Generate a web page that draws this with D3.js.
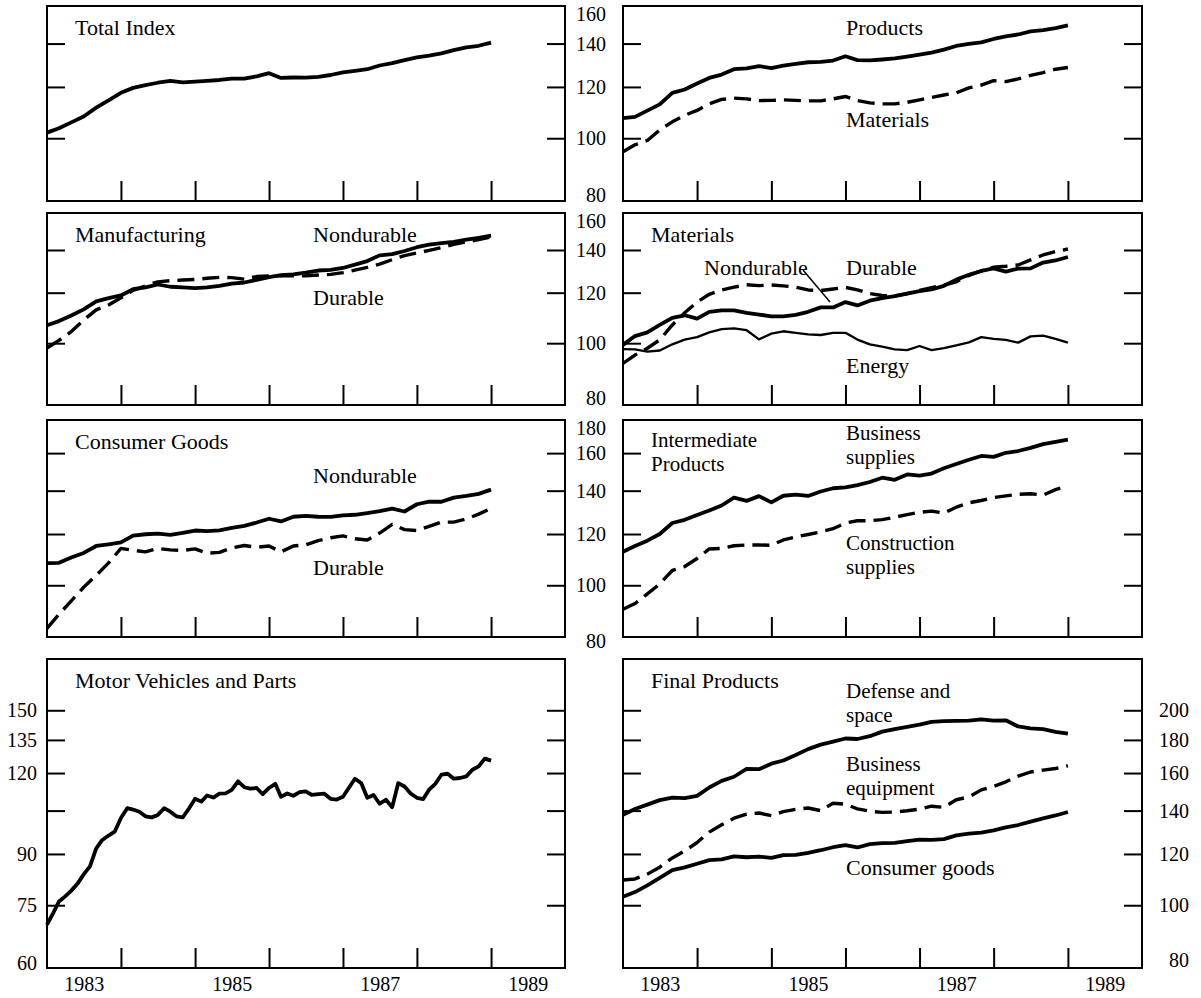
<!DOCTYPE html>
<html>
<head>
<meta charset="utf-8">
<script src="https://cdn.jsdelivr.net/npm/d3@7"></script>
<style>
body { margin: 0; background: #fff; }
svg { display: block; font-family: "Liberation Serif", "Times New Roman", serif; }
</style>
</head>
<body>
<div id="chart"></div>
<script>
// Index values, every two months from Jan 1983 to Jan 1989
var totalIndex = [102.0, 103.6, 105.8, 108.0, 111.5, 114.4, 117.5, 119.6, 120.8, 121.8, 122.6, 122.0, 122.3, 122.6, 123.0, 123.6, 123.6, 124.6, 126.0, 123.9, 124.1, 124.0, 124.4, 125.2, 126.4, 127.1, 127.8, 129.5, 130.6, 132.0, 133.3, 134.1, 135.2, 136.8, 138.1, 138.9, 140.5];
var products = [107.4, 107.9, 110.3, 112.8, 117.5, 118.9, 121.5, 123.9, 125.4, 127.8, 128.2, 129.2, 128.3, 129.4, 130.3, 131.0, 131.2, 131.8, 133.8, 132.0, 131.9, 132.3, 132.8, 133.7, 134.6, 135.6, 137.0, 138.8, 139.8, 140.6, 142.3, 143.6, 144.6, 146.2, 146.9, 147.9, 149.3];
var materials = [95.3, 97.7, 99.2, 103.0, 106.0, 108.5, 110.4, 113.0, 114.8, 115.3, 115.0, 114.3, 114.4, 114.6, 114.4, 114.2, 114.2, 115.0, 116.0, 114.3, 113.4, 113.0, 113.0, 113.6, 114.6, 115.6, 116.6, 117.5, 119.6, 120.8, 122.7, 122.3, 123.5, 125.0, 126.3, 127.8, 128.6];
var mfgNondurable = [106.7, 108.3, 110.5, 113.0, 116.3, 117.7, 118.8, 121.5, 122.3, 123.6, 122.6, 122.3, 122.0, 122.3, 123.0, 124.0, 124.5, 125.7, 126.9, 127.8, 128.2, 129.0, 130.0, 130.3, 131.2, 132.8, 134.5, 137.3, 137.9, 139.5, 141.4, 142.7, 143.5, 144.2, 145.3, 146.3, 147.4];
var mfgDurable = [98.3, 101.0, 104.3, 108.7, 112.8, 114.8, 117.8, 121.0, 123.0, 124.8, 125.3, 125.6, 125.9, 126.4, 126.8, 126.7, 126.0, 127.2, 127.5, 127.5, 127.5, 127.5, 127.9, 128.2, 129.0, 130.2, 131.5, 133.0, 135.2, 137.2, 138.5, 139.8, 141.2, 142.9, 144.2, 145.3, 146.8];
var matDurable = [93.0, 95.8, 98.2, 101.2, 106.8, 111.6, 116.0, 119.3, 121.2, 122.4, 123.5, 123.1, 123.4, 123.0, 122.4, 121.2, 120.9, 121.6, 122.3, 121.2, 119.6, 118.8, 118.6, 119.6, 121.0, 122.2, 123.3, 124.8, 127.7, 129.8, 131.6, 132.0, 132.6, 135.1, 137.5, 139.2, 140.5];
var matNondurable = [99.4, 102.6, 104.0, 106.8, 109.6, 110.6, 109.3, 112.0, 112.6, 112.6, 111.6, 110.9, 110.2, 110.2, 110.8, 112.0, 113.8, 113.8, 116.0, 114.6, 116.6, 117.7, 118.5, 119.6, 120.7, 121.4, 123.0, 125.8, 128.0, 129.8, 131.0, 129.5, 130.9, 131.0, 133.8, 134.8, 136.5];
var energy = [97.9, 97.8, 97.0, 97.4, 99.6, 101.3, 102.2, 104.0, 105.2, 105.5, 104.8, 101.4, 103.5, 104.4, 103.8, 103.2, 103.0, 103.8, 103.8, 101.3, 99.6, 98.8, 97.8, 97.5, 99.0, 97.5, 98.2, 99.2, 100.3, 102.2, 101.6, 101.2, 100.2, 102.5, 102.8, 101.6, 100.2];
var cgNondurable = [108.2, 108.3, 110.4, 112.2, 115.0, 115.7, 116.5, 119.3, 119.9, 120.2, 119.6, 120.5, 121.5, 121.2, 121.6, 122.6, 123.5, 125.0, 126.7, 125.5, 127.6, 128.0, 127.6, 127.5, 128.2, 128.5, 129.3, 130.2, 131.3, 130.0, 133.4, 134.6, 134.6, 136.6, 137.4, 138.4, 140.5];
var cgDurable = [85.8, 90.2, 94.6, 99.3, 103.6, 108.3, 114.0, 113.3, 112.6, 114.0, 113.4, 113.2, 113.8, 112.1, 112.4, 114.2, 115.2, 114.5, 115.0, 112.6, 115.0, 115.5, 117.2, 118.4, 119.2, 118.0, 117.5, 120.4, 124.2, 121.9, 121.5, 123.3, 125.2, 125.2, 126.6, 128.8, 131.5];
var businessSupplies = [112.7, 115.0, 117.2, 120.0, 124.8, 126.2, 128.4, 130.5, 132.8, 136.6, 135.0, 137.3, 134.3, 137.5, 138.0, 137.4, 139.6, 141.2, 141.6, 142.8, 144.4, 146.6, 145.5, 148.3, 147.7, 148.8, 151.6, 153.9, 156.3, 158.4, 157.9, 160.2, 161.2, 163.0, 165.2, 166.5, 167.8];
var constructionSupplies = [91.8, 93.7, 97.0, 100.5, 105.4, 106.9, 110.0, 113.8, 114.0, 115.1, 115.4, 115.4, 115.3, 117.5, 118.8, 119.8, 120.9, 122.3, 124.8, 125.8, 125.8, 126.3, 127.4, 128.6, 129.6, 130.2, 129.3, 132.0, 134.1, 135.2, 136.6, 137.4, 138.2, 138.5, 137.8, 140.5, 142.4];
var defenseSpace = [137.9, 140.8, 143.0, 145.3, 146.6, 146.3, 147.5, 152.0, 155.6, 157.9, 162.4, 162.2, 165.4, 167.3, 170.6, 174.2, 177.0, 178.9, 180.9, 180.6, 182.4, 185.4, 187.1, 188.5, 190.0, 191.9, 192.4, 192.6, 192.8, 193.6, 192.8, 193.0, 188.8, 187.6, 187.0, 185.2, 184.0];
var businessEquipment = [109.4, 109.8, 111.7, 114.5, 118.3, 121.3, 125.0, 129.7, 133.1, 136.3, 138.3, 138.8, 137.5, 139.5, 140.6, 141.3, 140.0, 143.7, 143.2, 140.9, 139.7, 139.1, 139.3, 139.9, 140.7, 142.2, 141.6, 145.5, 147.0, 150.7, 152.6, 155.1, 158.2, 160.6, 161.7, 162.6, 164.2];
var consumerGoods = [103.1, 104.8, 107.3, 110.2, 113.3, 114.4, 115.9, 117.4, 117.7, 119.0, 118.6, 118.9, 118.3, 119.5, 119.6, 120.5, 121.6, 122.9, 123.8, 122.8, 124.3, 124.7, 124.8, 125.6, 126.3, 126.2, 126.5, 128.2, 129.0, 129.5, 130.5, 131.9, 133.0, 134.6, 136.2, 137.6, 139.3];
// monthly, Jan 1983 to Jan 1989
var motorVehicles = [70.0, 73.0, 76.0, 77.4, 79.0, 81.0, 83.7, 86.1, 91.8, 94.6, 96.1, 97.4, 102.3, 105.9, 105.4, 104.6, 102.9, 102.5, 103.4, 105.9, 104.6, 102.9, 102.5, 105.7, 109.5, 108.4, 110.8, 110.0, 111.5, 111.6, 113.0, 116.5, 114.1, 113.5, 113.8, 111.3, 113.8, 115.5, 110.3, 111.6, 110.7, 112.1, 112.4, 111.0, 111.3, 111.5, 109.5, 109.2, 110.3, 114.1, 117.6, 115.8, 109.9, 111.0, 107.6, 109.1, 106.3, 115.8, 114.4, 111.6, 109.9, 109.4, 113.1, 115.5, 119.3, 119.7, 117.6, 117.9, 118.6, 121.4, 122.9, 126.3, 125.4];

var tickYears = [1984, 1985, 1986, 1987, 1988, 1989];
var labelYears = [1983, 1985, 1987, 1989];
var ticks1 = [140, 120, 100];
var labels1 = [160, 140, 120, 100, 80];
var ticks3 = [160, 140, 120, 100];
var labels3 = [180, 160, 140, 120, 100, 80];
var ticksMotor = [150, 135, 120, 105, 90, 75];
var labelsMotor = [150, 135, 120, 90, 75, 60];
var ticksFinal = [200, 180, 160, 140, 120, 100];
var labelsFinal = [200, 180, 160, 140, 120, 100, 80];

var svgW = 1201;
var svgH = 998;

var cols = [{x0: 47, x1: 565}, {x0: 623, x1: 1142}];
var rows = [{y0: 6, y1: 201}, {y0: 213, y1: 405}, {y0: 420, y1: 637}, {y0: 659, y1: 968}];

function every2(values) {
    return values.map(function(v, i) { return {date: new Date(1983, 2 * i, 1), value: v}; });
}
function every1(values) {
    return values.map(function(v, i) { return {date: new Date(1983, i, 1), value: v}; });
}

var SOLID = {w: 3.8, dash: null};
var DASH = {w: 3.4, dash: "17,8"};
var THIN = {w: 2.3, dash: null};

// "|" splits a label over two lines
var panels = [
    {col: 0, row: 0, domain: [80, 160], ticks: ticks1,
        series: [{data: every2(totalIndex), s: SOLID}],
        texts: [["Total Index", 75, 35]]},
    {col: 1, row: 0, domain: [80, 160], ticks: ticks1,
        series: [{data: every2(products), s: SOLID}, {data: every2(materials), s: DASH}],
        texts: [["Products", 846, 35], ["Materials", 846, 127]]},
    {col: 0, row: 1, domain: [80, 160], ticks: ticks1,
        series: [{data: every2(mfgNondurable), s: SOLID}, {data: every2(mfgDurable), s: DASH}],
        texts: [["Manufacturing", 75, 242], ["Nondurable", 313, 242], ["Durable", 313, 305]]},
    {col: 1, row: 1, domain: [80, 160], ticks: ticks1,
        series: [{data: every2(matNondurable), s: SOLID}, {data: every2(matDurable), s: DASH}, {data: every2(energy), s: THIN}],
        texts: [["Materials", 651, 242], ["Nondurable", 704, 275], ["Durable", 846, 275], ["Energy", 846, 373]],
        leader: [[803, 270], [830, 302]]},
    {col: 0, row: 2, domain: [83.2, 180], ticks: ticks3,
        series: [{data: every2(cgNondurable), s: SOLID}, {data: every2(cgDurable), s: DASH}],
        texts: [["Consumer Goods", 75, 449], ["Nondurable", 313, 483], ["Durable", 313, 575]]},
    {col: 1, row: 2, domain: [83.2, 180], ticks: ticks3,
        series: [{data: every2(businessSupplies), s: SOLID}, {data: every2(constructionSupplies), s: DASH}],
        texts: [["Intermediate|Products", 651, 447], ["Business|supplies", 846, 440], ["Construction|supplies", 846, 550]]},
    {col: 0, row: 3, domain: [60, 180], ticks: ticksMotor,
        series: [{data: every1(motorVehicles), s: SOLID}],
        texts: [["Motor Vehicles and Parts", 75, 688]]},
    {col: 1, row: 3, domain: [80, 240], ticks: ticksFinal,
        series: [{data: every2(defenseSpace), s: SOLID}, {data: every2(businessEquipment), s: DASH}, {data: every2(consumerGoods), s: SOLID}],
        texts: [["Final Products", 651, 688], ["Defense and|space", 846, 698], ["Business|equipment", 846, 771],
            ["Consumer goods", 846, 875]]}
];

var svg = d3.select("#chart")
    .append("svg")
    .attr("width", svgW)
    .attr("height", svgH);

function xScaleFor(c) {
    return d3.scaleTime()
        .domain([new Date(1983, 0, 1), new Date(1990, 0, 1)])
        .range([c.x0, c.x1]);
}

function yScaleFor(p) {
    var r = rows[p.row];
    return d3.scaleLog().domain(p.domain).range([r.y1, r.y0]);
}

panels.forEach(function(p) {
    var c = cols[p.col], r = rows[p.row];
    var x = xScaleFor(c);
    var y = yScaleFor(p);
    var g = svg.append("g");

    // inward ticks on both sides and along the bottom
    g.append("g")
        .attr("transform", "translate(" + c.x0 + ",0)")
        .call(d3.axisRight(y).tickValues(p.ticks).tickSize(18).tickFormat(""));
    g.append("g")
        .attr("transform", "translate(" + c.x1 + ",0)")
        .call(d3.axisLeft(y).tickValues(p.ticks).tickSize(18).tickFormat(""));
    g.append("g")
        .attr("transform", "translate(0," + r.y1 + ")")
        .call(d3.axisTop(x).tickValues(tickYears.map(function(yr) { return new Date(yr, 0, 1); })).tickSize(20).tickFormat(""));
    g.selectAll(".domain").remove();
    g.selectAll(".tick line").attr("stroke", "#000").attr("stroke-width", 2);

    var line = d3.line()
        .x(function(d) { return x(d.date); })
        .y(function(d) { return y(d.value); });

    p.series.forEach(function(s) {
        g.append("path")
            .datum(s.data)
            .attr("d", line)
            .attr("fill", "none")
            .attr("stroke", "#000")
            .attr("stroke-width", s.s.w)
            .attr("stroke-linejoin", "round")
            .attr("stroke-dasharray", s.s.dash);
    });

    g.append("rect")
        .attr("x", c.x0)
        .attr("y", r.y0)
        .attr("width", c.x1 - c.x0)
        .attr("height", r.y1 - r.y0)
        .attr("fill", "none")
        .attr("stroke", "#000")
        .attr("stroke-width", 2);

    g.selectAll(".lbl")
        .data(p.texts)
        .enter()
        .append("text")
        .attr("x", function(d) { return d[1]; })
        .attr("y", function(d) { return d[2]; })
        .attr("font-size", function(d) { return d[0].indexOf("|") < 0 ? 22 : 21; })
        .each(function(d) {
            var t = d3.select(this);
            d[0].split("|").forEach(function(part, i) {
                t.append("tspan")
                    .attr("x", d[1])
                    .attr("dy", i ? 24 : 0)
                    .text(part);
            });
        });

    if (p.leader) {
        g.append("line")
            .attr("x1", p.leader[0][0]).attr("y1", p.leader[0][1])
            .attr("x2", p.leader[1][0]).attr("y2", p.leader[1][1])
            .attr("stroke", "#000")
            .attr("stroke-width", 1.5);
    }
});

// y labels, kept near the frame height
function yLabels(values, p, xPos, lowPad) {
    var r = rows[p.row];
    var y = yScaleFor(p);
    svg.append("g")
        .selectAll("text")
        .data(values)
        .enter()
        .append("text")
        .attr("x", xPos)
        .attr("y", function(d) { return Math.max(r.y0 + 8, Math.min(r.y1 + lowPad, y(d))); })
        .attr("dy", "0.35em")
        .attr("text-anchor", "end")
        .attr("font-size", 20)
        .text(function(d) { return d; });
}

yLabels(labels1, panels[0], 606, -6);
yLabels(labels1, panels[2], 606, -7);
yLabels(labels3, panels[4], 606, 4);
yLabels(labelsMotor, panels[6], 37, -5);
yLabels(labelsFinal, panels[7], 1189, -8);

// year labels centred on each year
cols.forEach(function(c) {
    var x = xScaleFor(c);
    svg.append("g")
        .attr("transform", "translate(0," + rows[3].y1 + ")")
        .call(d3.axisBottom(x)
            .tickValues(labelYears.map(function(yr) { return new Date(yr, 6, 1); }))
            .tickSize(0)
            .tickPadding(9)
            .tickFormat(d3.timeFormat("%Y")))
        .attr("font-family", null)
        .attr("font-size", null)
        .call(function(a) {
            a.select(".domain").remove();
            a.selectAll("text").attr("font-size", 20).attr("fill", "#000");
        });
});
</script>
</body>
</html>
